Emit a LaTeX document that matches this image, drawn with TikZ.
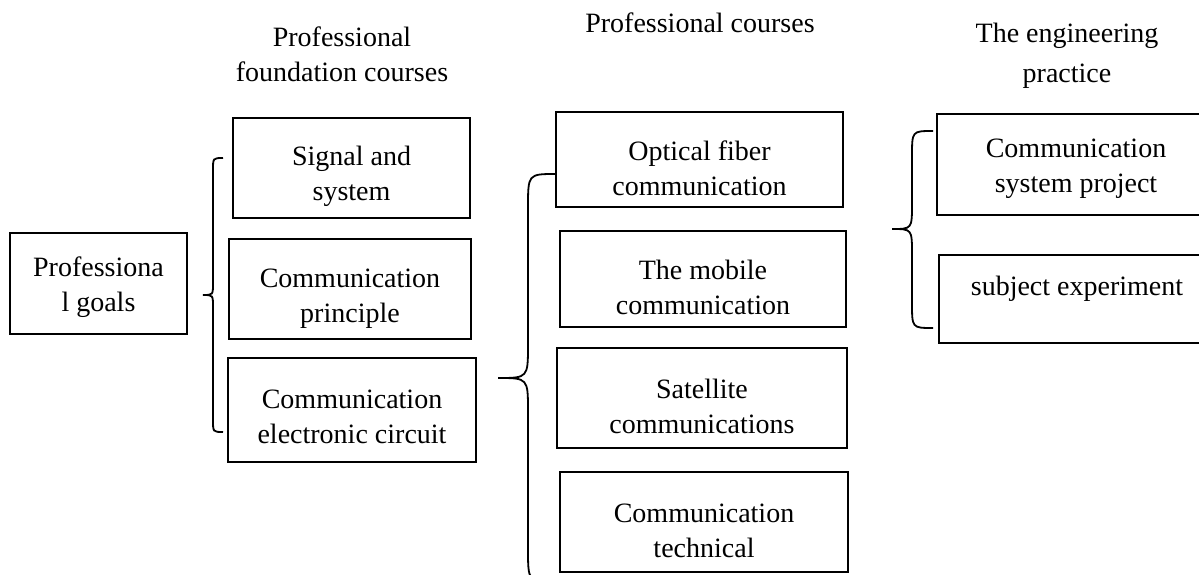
\documentclass[tikz,border=0pt]{standalone}
\usepackage{fontspec}
\setmainfont{Liberation Serif}
\def\curlybrace(#1:#2:#3)(#4:#5:#6){%
  \pgfmathsetmacro\bendlen{1.2*(#1-#2)}%
  \draw[bracestroke] (#1,#4) .. controls (#2,#4) .. (#2,#4+\bendlen) -- (#2,#5-\bendlen)
    .. controls (#2,#5) .. (#3,#5) .. controls (#2,#5) .. (#2,#5+\bendlen)
    -- (#2,#6-\bendlen) .. controls (#2,#6) .. (#1,#6);}

\begin{document}
\begin{tikzpicture}[x=1pt,y=-1pt,
    font=\fontsize{28}{35}\selectfont,
    box/.style={draw,line width=1.8pt,align=center,inner sep=0pt,text height=#1},
    box/.default=72pt,
    heading/.style={align=center,inner sep=0pt},
    bracestroke/.style={line width=1.8pt}]
    \clip (0,0) rectangle (1199,575);
    %%%%% HEADINGS %%%%%
    \node[heading] (foundhead) at (342,54) {Professional\\foundation courses};
    \node[heading,anchor=base] (profhead) at (700,33) {Professional courses};
    \node[heading] (practhead) at (1067,55.5) {The engineering\\[5pt]practice};
    
    %%%%% GOALS %%%%%
    \node[box=62pt,minimum width=177pt,minimum height=101pt] (goals) at (98.5,283.5) {Professiona\\l goals};
    \curlybrace(223:213:203)(158:295:432)
    
    %%%%% FOUNDATION COURSES %%%%%
    \node[box,minimum width=237pt,minimum height=100pt] (signal) at (351.5,168) {Signal and\\system};
    \node[box,minimum width=242pt,minimum height=100pt] (principle) at (350,289) {Communication\\principle};
    \node[box=68pt,minimum width=248pt,minimum height=104pt] (circuit) at (352,410) {Communication\\electronic circuit};
    \curlybrace(556:528:498)(174:378:582)
    
    %%%%% PROFESSIONAL COURSES %%%%%
    \node[box,minimum width=287pt,minimum height=95pt] (optical) at (699.5,159.5) {Optical fiber\\communication};
    \node[box,minimum width=286pt,minimum height=96pt] (mobile) at (703,279) {The mobile\\communication};
    \node[box,minimum width=290pt,minimum height=100pt] (satellite) at (702,398) {Satellite\\communications};
    \node[box,minimum width=288pt,minimum height=100pt] (technical) at (704,522) {Communication\\technical};
    \curlybrace(933:912:892)(131:229:328)
    
    %%%%% PRACTICE %%%%%
    \node[box=62pt,minimum width=278pt,minimum height=101pt] (sysproject) at (1076,164.5) {Communication\\system project};
    \node[box=19pt,minimum width=276pt,minimum height=88pt,text depth=27pt] (subject) at (1077,299) {subject experiment};
\end{tikzpicture}
\end{document}
